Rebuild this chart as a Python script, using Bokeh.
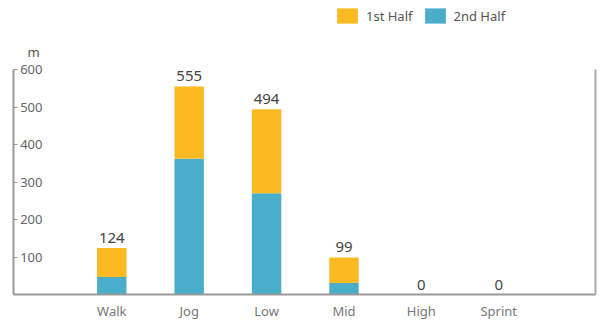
from bokeh.plotting import figure
from bokeh.models import (ColumnDataSource, Range1d, FixedTicker, LinearAxis, Legend,
                          LegendItem, Label)
from bokeh.core.properties import value
from bokeh.embed import file_html
from bokeh.resources import INLINE

categories = ["Walk", "Jog", "Low", "Mid", "High", "Sprint"]
second_half = [47, 362, 270, 31, 0, 0]
first_half = [77, 193, 224, 68, 0, 0]
totals = [124, 555, 494, 99, 0, 0]
y_ticks = [100, 200, 300, 400, 500, 600]
y_max = 600
series_names = ["1st Half", "2nd Half"]
unit_label = "m"

FONT = "Noto Sans"
YELLOW = "#FBBA22"
BLUE = "#4AAECB"

xs = list(range(len(categories)))
src = ColumnDataSource(dict(
    x=xs,
    second=second_half,
    first_top=[a + b for a, b in zip(second_half, first_half)],
    total=totals,
    label=[str(t) for t in totals],
))

# frame spans whole height above the x axis; axis lines bounded to 0..600
p = figure(width=612, height=326, output_backend="svg", toolbar_location=None,
           x_range=Range1d(-1.27, len(categories) - 1 + 1.25),
           y_range=Range1d(0, 784),
           min_border_left=13, min_border_right=17, min_border_top=0,
           min_border_bottom=32)
p.outline_line_color = None
p.grid.grid_line_color = None
p.background_fill_color = "white"
p.border_fill_color = "white"

r2 = p.vbar(x="x", bottom=0, top="second", width=0.38, source=src,
            fill_color=BLUE, line_color=None)
r1 = p.vbar(x="x", bottom="second", top="first_top", width=0.38, source=src,
            fill_color=YELLOW, line_color=None)

p.text(x="x", y="total", text="label", source=src, y_offset=-5,
       text_align="center", text_baseline="bottom",
       text_font=value(FONT), text_font_size="15px", text_color="#444444")

# x axis
xa = p.xaxis[0]
xa.ticker = FixedTicker(ticks=xs)
xa.major_label_overrides = {i: c for i, c in enumerate(categories)}
xa.major_tick_line_color = None
xa.minor_tick_line_color = None
xa.axis_line_color = "#999999"
xa.axis_line_width = 2
xa.major_label_text_font = FONT
xa.major_label_text_font_size = "13px"
xa.major_label_text_color = "#777777"
xa.major_label_standoff = 1

# y axis: labels inside the frame
ya = p.yaxis[0]
ya.ticker = FixedTicker(ticks=y_ticks)
ya.bounds = (0, y_max)
ya.axis_line_color = "#999999"
ya.axis_line_width = 2
ya.major_tick_in = 4
ya.major_tick_out = 0
ya.major_tick_line_color = "#999999"
ya.minor_tick_line_color = None
ya.major_label_standoff = -29
ya.major_label_text_font = FONT
ya.major_label_text_font_size = "13px"
ya.major_label_text_color = "#666666"

# right border line
ra = LinearAxis(ticker=FixedTicker(ticks=[]), bounds=(0, y_max),
                axis_line_color="#aaaaaa", axis_line_width=2,
                major_label_text_font_size="0px",
                major_tick_line_color=None, minor_tick_line_color=None)
p.add_layout(ra, "right")

unit = Label(x=14, y=234, x_units="screen", y_units="screen", text=unit_label,
             text_font=FONT, text_font_size="13px", text_color="#555555")
p.add_layout(unit)

legend = Legend(items=[LegendItem(label=series_names[0], renderers=[r1]),
                       LegendItem(label=series_names[1], renderers=[r2])],
                orientation="horizontal", location=(321, 269),
                glyph_width=26, glyph_height=19, label_standoff=6, spacing=9,
                padding=0, margin=0, border_line_color=None,
                background_fill_alpha=0,
                label_text_font=FONT, label_text_font_size="13px",
                label_text_color="#555555")
p.add_layout(legend, "center")

open("out.html", "w").write(file_html(p, INLINE))
